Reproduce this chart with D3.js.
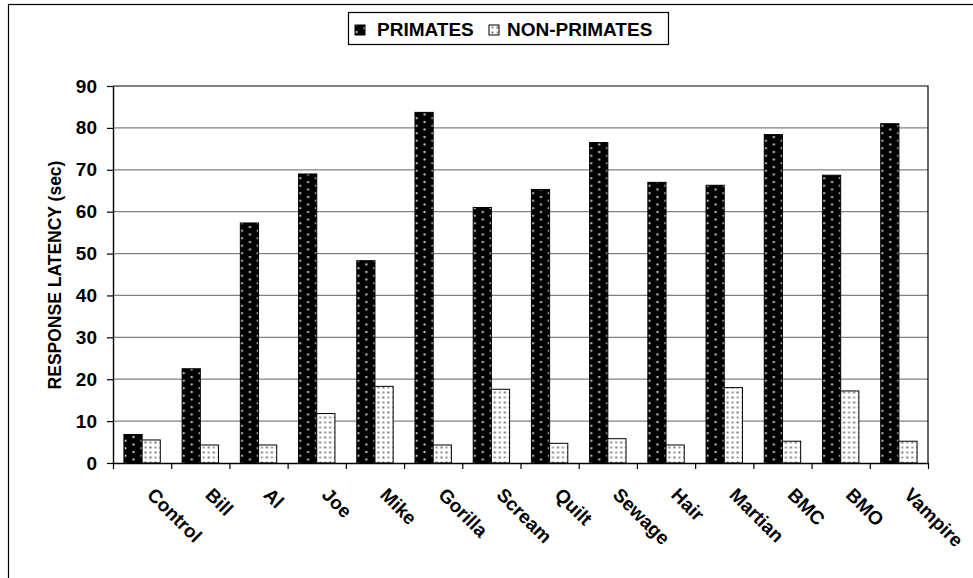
<!DOCTYPE html>
<html>
<head>
<meta charset="utf-8">
<script src="https://cdn.jsdelivr.net/npm/d3@7"></script>
<style>
  html, body { margin: 0; padding: 0; background: #fff; }
  svg { display: block; font-family: Arial, "Liberation Sans", sans-serif; }
</style>
</head>
<body>
<svg id="chart" width="973" height="578"></svg>
<script>
// Stimulus names and mean response latencies (seconds)
const categories = ["Control", "Bill", "Al", "Joe", "Mike", "Gorilla", "Scream", "Quilt",
                    "Sewage", "Hair", "Martian", "BMC", "BMO", "Vampire"];
const primates    = [6.8, 22.5, 57.3, 69.0, 48.3, 83.7, 61.0, 65.3, 76.5, 67.0, 66.3, 78.4, 68.7, 81.0];
const nonPrimates = [5.5, 4.3, 4.3, 11.8, 18.3, 4.3, 17.6, 4.7, 5.8, 4.3, 18.0, 5.2, 17.2, 5.2];
const seriesNames = ["PRIMATES", "NON-PRIMATES"];
const yTicks = [0, 10, 20, 30, 40, 50, 60, 70, 80, 90];
const yTitle = "RESPONSE LATENCY (sec)";

const svg = d3.select("#chart");
const plot = { left: 113, right: 928, top: 86, bottom: 463 };

// Dotted fills for the two series
const defs = svg.append("defs");
const pDark = defs.append("pattern").attr("id", "dotsDark")
  .attr("patternUnits", "userSpaceOnUse").attr("width", 16).attr("height", 7.5);
pDark.append("rect").attr("width", 16).attr("height", 7.5).attr("fill", "#000");
pDark.append("rect").attr("x", 3.5).attr("y", 1).attr("width", 2).attr("height", 2).attr("fill", "#d4d4d4");
pDark.append("rect").attr("x", 11.5).attr("y", 4.75).attr("width", 2).attr("height", 2).attr("fill", "#d4d4d4");

const pLight = defs.append("pattern").attr("id", "dotsLight")
  .attr("patternUnits", "userSpaceOnUse").attr("width", 10).attr("height", 10);
pLight.append("rect").attr("width", 10).attr("height", 10).attr("fill", "#fff");
pLight.append("rect").attr("x", 1.5).attr("y", 1.5).attr("width", 2).attr("height", 2).attr("fill", "#707070");
pLight.append("rect").attr("x", 6.5).attr("y", 6.5).attr("width", 2).attr("height", 2).attr("fill", "#707070");
pLight.append("rect").attr("x", 6.5).attr("y", 1.5).attr("width", 2).attr("height", 2).attr("fill", "#909090");
pLight.append("rect").attr("x", 1.5).attr("y", 6.5).attr("width", 2).attr("height", 2).attr("fill", "#909090");

const fills = ["url(#dotsDark)", "url(#dotsLight)"];

// Outer chart frame
svg.append("rect")
  .attr("x", 8.5).attr("y", 4.5).attr("width", 1000).attr("height", 620)
  .attr("fill", "#fff").attr("stroke", "#000").attr("stroke-width", 1.2);

// Scales
const x = d3.scaleBand().domain(categories).range([plot.left, plot.right]).paddingInner(0).paddingOuter(0);
const xSub = d3.scaleBand().domain([0, 1]).range([0, x.bandwidth()]).paddingInner(0).paddingOuter(0.6);
const y = d3.scaleLinear().domain([0, 90]).range([plot.bottom, plot.top]);

// Gridlines
svg.append("g").selectAll("line")
  .data(yTicks.filter(t => t > 0 && t < 90))
  .join("line")
  .attr("x1", plot.left).attr("x2", plot.right)
  .attr("y1", d => y(d)).attr("y2", d => y(d))
  .attr("stroke", "#808080").attr("stroke-width", 1.2);

// Plot area border (top and right)
svg.append("path")
  .attr("d", `M${plot.left},${y(90)}H${plot.right}V${plot.bottom}`)
  .attr("fill", "none").attr("stroke", "#000").attr("stroke-width", 1.2);

// Bars
const rows = categories.map((c, i) => ({ cat: c, vals: [primates[i], nonPrimates[i]] }));
const groups = svg.append("g").selectAll("g")
  .data(rows).join("g")
  .attr("transform", d => `translate(${x(d.cat)},0)`);
groups.selectAll("rect")
  .data(d => d.vals.map((v, k) => ({ v, k })))
  .join("rect")
  .attr("x", d => xSub(d.k))
  .attr("width", xSub.bandwidth())
  .attr("y", d => y(d.v))
  .attr("height", d => y(0) - y(d.v))
  .attr("fill", d => fills[d.k])
  .attr("stroke", "#000").attr("stroke-width", 1);

// Y axis
const yAxis = svg.append("g")
  .attr("transform", `translate(${plot.left},0)`)
  .call(d3.axisLeft(y).tickValues(yTicks).tickSize(6).tickSizeOuter(0).tickPadding(10));
yAxis.select(".domain").attr("stroke", "#000").attr("stroke-width", 1.4);
yAxis.selectAll(".tick line").attr("stroke", "#000").attr("stroke-width", 1.2);
yAxis.selectAll(".tick text")
  .attr("font-size", "19px").attr("font-weight", "bold").attr("fill", "#000")
  .attr("font-family", "Arial, 'Liberation Sans', sans-serif");

// X axis: ticks sit between categories
const xIdx = d3.scaleLinear().domain([0, categories.length]).range([plot.left, plot.right]);
const xAxis = svg.append("g")
  .attr("transform", `translate(0,${plot.bottom})`)
  .call(d3.axisBottom(xIdx).tickValues(d3.range(categories.length + 1)).tickFormat("").tickSize(6).tickSizeOuter(0));
xAxis.select(".domain").attr("stroke", "#000").attr("stroke-width", 1.4);
xAxis.selectAll(".tick line").attr("stroke", "#000").attr("stroke-width", 1.2);

// Rotated category labels
svg.append("g").selectAll("text")
  .data(categories).join("text")
  .attr("transform", d => `translate(${x(d) + x.bandwidth() / 2 + 4},496) rotate(45)`)
  .attr("text-anchor", "start")
  .attr("font-size", "19px").attr("font-weight", "bold").attr("fill", "#000")
  .text(d => d);

// Y axis title
svg.append("text")
  .attr("transform", `translate(61,275) rotate(-90)`)
  .attr("text-anchor", "middle")
  .attr("font-size", "17.5px").attr("font-weight", "bold").attr("fill", "#000")
  .text(yTitle);

// Legend
const legend = svg.append("g");
legend.append("rect")
  .attr("x", 348.5).attr("y", 12.5).attr("width", 320).attr("height", 32)
  .attr("fill", "#fff").attr("stroke", "#000").attr("stroke-width", 1.2);
const legendItems = [
  { name: seriesNames[0], fill: fills[0], sx: 355, tx: 377 },
  { name: seriesNames[1], fill: fills[1], sx: 489, tx: 507 }
];
legend.selectAll("rect.sw").data(legendItems).join("rect")
  .attr("class", "sw")
  .attr("x", d => d.sx).attr("y", 25).attr("width", 10).attr("height", 10)
  .attr("fill", d => d.fill).attr("stroke", "#000").attr("stroke-width", 1);
legend.selectAll("text").data(legendItems).join("text")
  .attr("x", d => d.tx).attr("y", 36)
  .attr("font-size", "19px").attr("font-weight", "bold").attr("fill", "#000")
  .text(d => d.name);
</script>
</body>
</html>
